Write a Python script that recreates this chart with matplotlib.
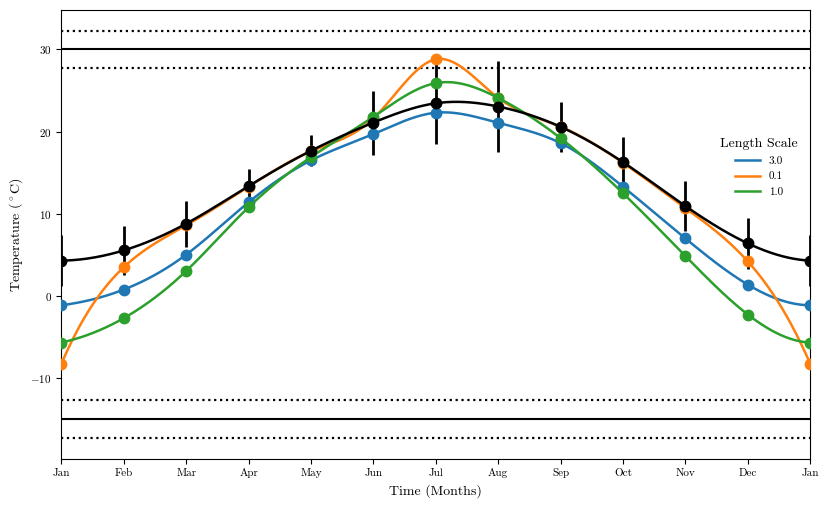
import numpy as np
import matplotlib
matplotlib.use("Agg")
import matplotlib.pyplot as plt

plt.rcParams['font.family'] = ['cmr10', 'DejaVu Serif']
plt.rcParams['mathtext.fontset'] = 'cm'
plt.rcParams['axes.formatter.use_mathtext'] = True
plt.rcParams['axes.unicode_minus'] = True

months = ['Jan', 'Feb', 'Mar', 'Apr', 'May', 'Jun', 'Jul', 'Aug', 'Sep',
          'Oct', 'Nov', 'Dec', 'Jan']
x = np.arange(13)

obs_mean = [4.3, 5.55, 8.8, 13.37, 17.67, 21.1, 23.45, 23.05, 20.58,
            16.28, 10.94, 6.4, 4.3]
obs_err = [3.1, 3.0, 2.8, 2.1, 1.9, 3.9, 4.9, 5.5, 3.0, 3.1, 3.0, 3.1, 3.1]

ls_labels = ['3.0', '0.1', '1.0']
ls_colors = ['#1f77b4', '#ff7f0e', '#2ca02c']
pred_30 = [-1.13, 0.78, 5.03, 11.4, 16.5, 19.7, 22.3, 21.07, 18.6,
           13.3, 7.0, 1.38, -1.13]
pred_01 = [-8.26, 3.5, 8.6, 13.3, 17.6, 21.6, 28.8, 24.1, 20.6,
           16.2, 10.7, 4.2, -8.26]
pred_10 = [-5.67, -2.7, 3.04, 10.8, 16.9, 21.8, 25.9, 24.1, 19.2,
           12.5, 4.86, -2.26, -5.67]

hlines_solid = [30.0, -15.0]
hlines_dotted = [32.3, 27.7, -12.7, -17.3]


def notaknot_spline(xk, yk, xs):
    xk = np.asarray(xk, float)
    yk = np.asarray(yk, float)
    n = len(xk)
    h = np.diff(xk)
    A = np.zeros((n, n))
    b = np.zeros(n)
    A[0, 0] = h[1]
    A[0, 1] = -(h[0] + h[1])
    A[0, 2] = h[0]
    for i in range(1, n - 1):
        A[i, i - 1] = h[i - 1]
        A[i, i] = 2 * (h[i - 1] + h[i])
        A[i, i + 1] = h[i]
        b[i] = 6 * ((yk[i + 1] - yk[i]) / h[i] - (yk[i] - yk[i - 1]) / h[i - 1])
    A[-1, -3] = h[-1]
    A[-1, -2] = -(h[-2] + h[-1])
    A[-1, -1] = h[-2]
    M = np.linalg.solve(A, b)
    idx = np.clip(np.searchsorted(xk, xs) - 1, 0, n - 2)
    x0 = xk[idx]
    x1 = xk[idx + 1]
    hh = x1 - x0
    t0 = x1 - xs
    t1 = xs - x0
    return (M[idx] * t0 ** 3 / (6 * hh) + M[idx + 1] * t1 ** 3 / (6 * hh)
            + (yk[idx] / hh - M[idx] * hh / 6) * t0
            + (yk[idx + 1] / hh - M[idx + 1] * hh / 6) * t1)


fig = plt.figure(figsize=(8.3, 5.09), dpi=100)
ax = fig.add_axes([0.0739, 0.0988, 0.9023, 0.8816])

xs = np.linspace(0, 12, 600)

for yv in hlines_solid:
    ax.axhline(yv, color='black', lw=1.5, zorder=1)
for yv in hlines_dotted:
    ax.axhline(yv, color='black', lw=1.6, ls=':', zorder=1)

ax.errorbar(x, obs_mean, yerr=obs_err, fmt='none', ecolor='black',
            elinewidth=2, zorder=2)

for vals, lab, col in zip([pred_30, pred_01, pred_10], ls_labels, ls_colors):
    ax.plot(xs, notaknot_spline(x, vals, xs), color=col, lw=1.8, label=lab,
            zorder=3)
    ax.plot(x, vals, 'o', color=col, ms=7.5, zorder=3, clip_on=True)

ax.plot(xs, notaknot_spline(x, obs_mean, xs), color='black', lw=1.8, zorder=4)
ax.plot(x, obs_mean, 'o', color='black', ms=7.5, zorder=4)

ax.set_xlim(0, 12)
ax.set_ylim(-19.8, 34.8)
ax.set_xticks(x)
ax.set_xticklabels(months)
ax.set_yticks([-10, 0, 10, 20, 30])
ax.tick_params(labelsize=8)
ax.set_xlabel('Time (Months)', fontsize=10)
ax.set_ylabel(r'Temperature ($^\circ$C)', fontsize=10)

leg = ax.legend(title='Length Scale', loc='upper right',
                bbox_to_anchor=(0.997, 0.738), frameon=False, fontsize=8,
                title_fontsize=10, handlelength=2.2, labelspacing=0.55)

fig.savefig('out.png', dpi=100)
